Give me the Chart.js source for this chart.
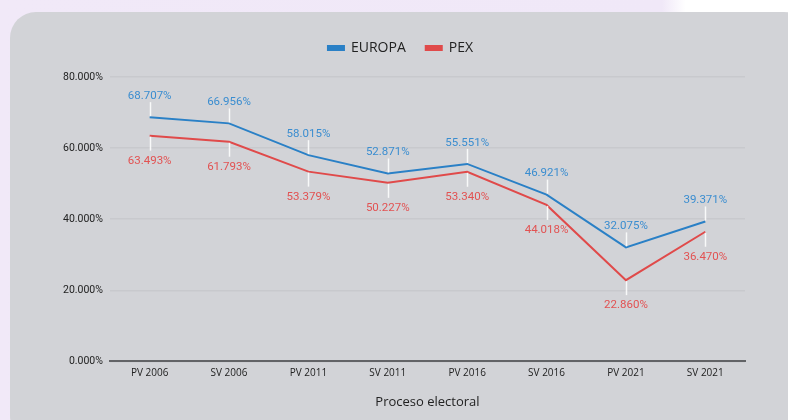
<!DOCTYPE html>
<html>
<head>
<meta charset="utf-8">
<script src="https://cdn.jsdelivr.net/npm/chart.js@4/dist/chart.umd.min.js"></script>
<style>
  html, body { margin: 0; padding: 0; }
  body { width: 788px; height: 420px; overflow: hidden; position: relative;
         background: linear-gradient(90deg, #f1e9f8 0%, #f0e8f8 84%, #ffffff 87%); }
  .card { position: absolute; left: 10px; top: 12px; width: 800px; height: 430px;
          background: #d2d3d7; border-radius: 26px; }
  #wrap { position: absolute; left: 0; top: 0; width: 788px; height: 420px; }
</style>
</head>
<body>
<div class="card"></div>
<div id="wrap"><canvas id="chart"></canvas></div>
<script>
const categories = ['PV 2006', 'SV 2006', 'PV 2011', 'SV 2011', 'PV 2016', 'SV 2016', 'PV 2021', 'SV 2021'];
const europa = [68.707, 66.956, 58.015, 52.871, 55.551, 46.921, 32.075, 39.371];
const pex = [63.493, 61.793, 53.379, 50.227, 53.340, 44.018, 22.860, 36.470];
const yTicks = [0, 20, 40, 60, 80];

const BLUE = '#2a80c6';
const RED = '#e04a4a';

// data labels with small white leader lines (blue above, red below)
const leaderLabels = {
  id: 'leaderLabels',
  afterDatasetsDraw(chart) {
    const ctx = chart.ctx;
    ctx.save();
    ctx.font = '11.5px Roboto';
    ctx.textAlign = 'center';
    ctx.textBaseline = 'middle';
    chart.data.datasets.forEach((ds, i) => {
      const meta = chart.getDatasetMeta(i);
      const above = i === 0;
      meta.data.forEach((pt, j) => {
        const x = Math.round(pt.x) + 0.5;
        ctx.strokeStyle = 'rgba(255,255,255,0.85)';
        ctx.lineWidth = 1.5;
        ctx.beginPath();
        if (above) { ctx.moveTo(x, pt.y - 1); ctx.lineTo(x, pt.y - 15); }
        else { ctx.moveTo(x, pt.y + 1); ctx.lineTo(x, pt.y + 15); }
        ctx.stroke();
        ctx.fillStyle = above ? '#3a8dd0' : '#e25252';
        ctx.fillText(ds.data[j].toFixed(3) + '%', pt.x, above ? pt.y - 21 : pt.y + 25);
      });
    });
    ctx.restore();
  }
};

// extra room under the legend
const legendGap = {
  id: 'legendGap',
  beforeInit(chart) {
    const fit = chart.legend.fit;
    chart.legend.fit = function () {
      fit.bind(chart.legend)();
      this.height += 12;
    };
  }
};

new Chart(document.getElementById('chart'), {
  type: 'line',
  data: {
    labels: categories,
    datasets: [
      { label: 'EUROPA', data: europa, borderColor: BLUE, backgroundColor: BLUE, borderWidth: 2, pointRadius: 0, tension: 0 },
      { label: 'PEX', data: pex, borderColor: RED, backgroundColor: RED, borderWidth: 2, pointRadius: 0, tension: 0 }
    ]
  },
  options: {
    responsive: true,
    maintainAspectRatio: false,
    animation: false,
    layout: { padding: { left: 56, right: 43, top: 21, bottom: 10 } },
    plugins: {
      tooltip: { enabled: false },
      legend: {
        position: 'top',
        labels: {
          boxWidth: 16, boxHeight: 4, padding: 20,
          color: '#222',
          font: { family: 'Open Sans', size: 14 }
        }
      }
    },
    scales: {
      x: {
        offset: true,
        grid: { display: false, drawTicks: false },
        border: { display: true, color: '#626366', width: 2 },
        ticks: { color: '#222', font: { family: 'Open Sans', size: 10 }, padding: 6 },
        title: {
          display: true, text: 'Proceso electoral', color: '#222',
          font: { family: 'Open Sans', size: 13 }, padding: { top: 9, bottom: 0 }
        }
      },
      y: {
        min: 0, max: 80,
        afterBuildTicks: (scale) => { scale.ticks = yTicks.map(v => ({ value: v })); },
        grid: { color: 'rgba(0,0,0,0.045)', drawTicks: false, lineWidth: 1.5 },
        border: { display: false },
        ticks: {
          color: '#222', padding: 7,
          font: { family: 'Roboto', size: 10.5 },
          callback: (v) => v.toFixed(3) + '%'
        }
      }
    }
  },
  plugins: [leaderLabels, legendGap]
});
</script>
</body>
</html>
